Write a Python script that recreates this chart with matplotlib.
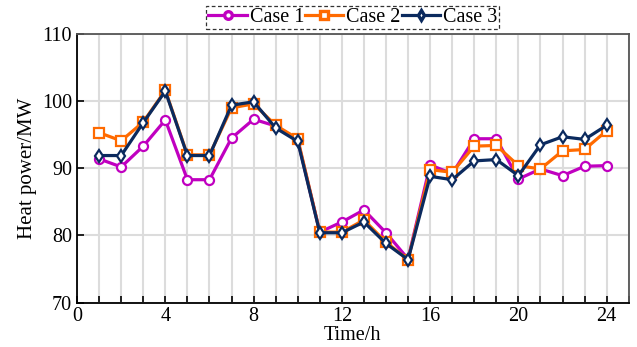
import matplotlib
matplotlib.use("Agg")
import matplotlib.pyplot as plt
from matplotlib.ticker import MultipleLocator

plt.rcParams['font.family'] = ['Liberation Serif', 'DejaVu Serif']

hours = list(range(1, 25))
case1 = [91.4, 90.2, 93.3, 97.2, 88.3, 88.3, 94.5, 97.3, 96.3, 94.2,
         80.5, 82.0, 83.8, 80.4, 76.5, 90.5, 89.2, 94.4, 94.4, 88.4,
         89.9, 88.9, 90.3, 90.4]
case2 = [95.3, 94.1, 96.9, 101.6, 92.0, 92.0, 99.0, 99.6, 96.4, 94.4,
         80.5, 80.5, 82.3, 79.0, 76.4, 89.8, 89.4, 93.3, 93.4, 90.4,
         89.9, 92.6, 92.8, 95.6]
case3 = [91.9, 91.9, 96.8, 101.5, 91.9, 91.9, 99.4, 99.9, 96.0, 94.0,
         80.4, 80.4, 82.0, 78.8, 76.4, 88.8, 88.3, 91.1, 91.3, 88.9,
         93.5, 94.7, 94.3, 96.4]

labels = ["Case 1", "Case 2", "Case 3"]
colors = ["#c000c0", "#ff6a00", "#0b2a5e"]
markers = ["o", "s", "d"]

fig = plt.figure(figsize=(6.37, 3.47), dpi=100)
ax = fig.add_axes([0.121, 0.128, 0.866, 0.774])

for vals, lab, c, m in zip([case1, case2, case3], labels, colors, markers):
    ax.plot(hours, vals, color=c, marker=m, markersize=6.5,
            markerfacecolor="white", markeredgewidth=1.6, linewidth=2.3, label=lab)

ax.set_xlim(0, 25)
ax.set_ylim(70, 110)
ax.xaxis.set_major_locator(MultipleLocator(4))
ax.xaxis.set_minor_locator(MultipleLocator(1))
ax.yaxis.set_major_locator(MultipleLocator(10))
ax.grid(True, which="both", axis="x", color="#dcdcdc", linewidth=1.5)
ax.grid(True, which="major", axis="y", color="#dcdcdc", linewidth=1.5)
ax.set_axisbelow(True)
ax.tick_params(which="both", direction="in", labelsize=14.5, length=5, width=1.2)
ax.tick_params(axis="x", pad=3)

for s in ax.spines.values():
    s.set_linewidth(1.3)
ax.spines["top"].set_color("#555555")
ax.spines["right"].set_color("#555555")

ax.set_xlabel("Time/h", fontsize=14.5, labelpad=0)
ax.set_ylabel("Heat power/MW", fontsize=15)

leg = ax.legend(loc="lower center", bbox_to_anchor=(0.5, 1.018), ncol=3,
                fontsize=14.5, frameon=True, fancybox=False, handlelength=1.9,
                handletextpad=0.15, columnspacing=0.05, borderpad=0.1,
                borderaxespad=0)
leg.get_frame().set_edgecolor("black")
leg.get_frame().set_linestyle((0, (3, 2)))
leg.get_frame().set_linewidth(0.9)
for h in leg.legend_handles:
    h.set_markersize(5.5)
    h.set_markeredgewidth(2.4)

fig.savefig("out.png", dpi=100)
